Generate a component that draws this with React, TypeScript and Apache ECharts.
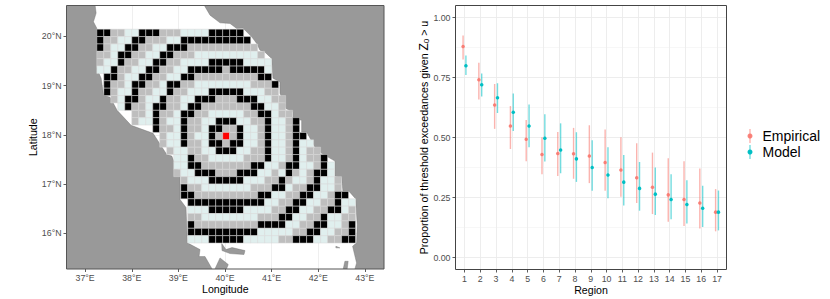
import React, { useEffect, useRef } from "react";
import * as echarts from "echarts";

// ---------- Right panel data ----------
const regions = [1, 2, 3, 4, 5, 6, 7, 8, 9, 10, 11, 12, 13, 14, 15, 16, 17];
const empiricalMean = [0.879, 0.741, 0.635, 0.548, 0.493, 0.429, 0.433, 0.432, 0.423, 0.396, 0.365, 0.332, 0.293, 0.261, 0.242, 0.227, 0.189];
const empiricalLow = [0.825, 0.658, 0.536, 0.452, 0.401, 0.347, 0.34, 0.328, 0.31, 0.278, 0.253, 0.227, 0.181, 0.149, 0.131, 0.121, 0.109];
const empiricalHigh = [0.925, 0.811, 0.723, 0.631, 0.573, 0.501, 0.523, 0.54, 0.551, 0.533, 0.501, 0.476, 0.437, 0.414, 0.401, 0.371, 0.285];
const modelMean = [0.799, 0.72, 0.666, 0.605, 0.548, 0.497, 0.448, 0.411, 0.375, 0.344, 0.314, 0.288, 0.264, 0.242, 0.221, 0.205, 0.189];
const modelLow = [0.76, 0.671, 0.602, 0.527, 0.459, 0.4, 0.351, 0.315, 0.278, 0.247, 0.217, 0.195, 0.177, 0.159, 0.142, 0.127, 0.113];
const modelHigh = [0.842, 0.767, 0.726, 0.683, 0.638, 0.597, 0.559, 0.522, 0.489, 0.459, 0.427, 0.398, 0.375, 0.347, 0.322, 0.299, 0.279];
const majorY = [0, 0.25, 0.5, 0.75, 1];
const minorY = [0.125, 0.375, 0.625, 0.875];

// ---------- Left panel data ----------
const lonTicks = [37, 38, 39, 40, 41, 42, 43];
const latTicks = [16, 17, 18, 19, 20];
const firstCellLon = 37.325;
const firstCellLat = 20.073;
const cellStep = 0.15;
// k black, g grey, l pale, r red, . no cell; one string per latitude row
const cellRows = [
  "kkggllkkkgggllllkkkkk",
  "kggllkkgggllkkkkkkkkkk",
  "kgllkkggllkkkgggggggggg",
  "gglkkggllkkggglllllllllg",
  "gllkggllkkggllllkkkkkllll",
  "llkggllkkggllkkkkkgkkkkkl",
  ".kkgllkkggllkkgggggggggkk",
  ".kgglkkgglkkgg" + "llllllll" + "gggk",
  ".kgllkggllkgglll" + "kkkkk" + "lll" + "gg",
  "..gl" + "kk" + "g" + "ll" + "k" + "gg" + "ll" + "kkk" + "ggg" + "kkk" + "ll" + "gg",
  "...l" + "k" + "gg" + "l" + "kk" + "gg" + "l" + "kk" + "ggggggg" + "kk" + "ll" + "g",
  "....." + "gg" + "l" + "k" + "gg" + "l" + "kk" + "gg" + "lllll" + "gg" + "kk" + "l" + "gg",
  "....." + "g" + "ll" + "k" + "g" + "ll" + "k" + "gg" + "ll" + "kkk" + "ll" + "gg" + "k" + "ll" + "g" + "k",
  "........" + "k" + "gg" + "l" + "k" + "gg" + "l" + "kk" + "gg" + "k" + "ll" + "g" + "k" + "ll" + "g" + "k",
  "........." + "g" + "ll" + "k" + "g" + "ll" + "k" + "g" + "r" + "g" + "k" + "ll" + "g" + "k" + "ll" + "g" + "kk",
  "........." + "g" + "ll" + "k" + "gg" + "l" + "kk" + "g" + "kk" + "ll" + "g" + "k" + "ll" + "g" + "k" + "ll",
  ".........." + "g" + "ll" + "gg" + "ll" + "kkk" + "ll" + "gg" + "k" + "ll" + "g" + "k" + "l" + "gg",
  "..........." + "ll" + "k" + "gg" + "lllll" + "ggg" + "k" + "ll" + "g" + "k" + "l" + "gg" + "k",
  "..........." + "ll" + "kk" + "ggggggg" + "kk" + "ll" + "g" + "kk" + "ll" + "g" + "k" + "l",
  "..........." + "g" + "ll" + "kkk" + "ggg" + "kkk" + "ll" + "g" + "l" + "k" + "g" + "l" + "g" + "kk" + "l",
  "............" + "g" + "lll" + "kkkkk" + "lll" + "gg" + "k" + "g" + "ll" + "g" + "k" + "ll" + "g",
  "............" + "k" + "gg" + "lllllll" + "ggg" + "kk" + "l" + "gg" + "kk" + "ll" + "g",
  "............" + "kk" + "ggggggggg" + "kk" + "ll" + "gg" + "kk" + "ll" + "g" + "kk",
  "............." + "kkkkkkkkkkk" + "ll" + "gg" + "kk" + "ll" + "gg" + "k" + "ll",
  "............." + "lll" + "kkkkk" + "llll" + "gg" + "kk" + "ll" + "gg" + "kk" + "l" + "g",
  "............." + "gg" + "llllllll" + "ggg" + "kk" + "ll" + "gg" + "k" + "ll" + "gg",
  "............." + "k" + "ggggggggg" + "kkkk" + "ll" + "gg" + "kk" + "ll" + "g" + "k",
  "............." + "kkkkkkkkkk" + "lllll" + "gg" + "kk" + "ll" + "gg" + "k",
  "............." + "lll" + "kkkkk" + "lllll" + "gg" + "kkk" + "ll" + "gg" + "kk",
];
const cellColours: Record<string, string> = { k: "#000000", g: "#bebebe", l: "#e0efee", r: "#ff0000" };

const westLand = [
  [37.214, 20.8], [37.214, 20.632], [37.236, 20.475], [37.178, 20.298], [37.25, 20.169], [37.25, 19.354],
  [37.343, 19.15], [37.396, 18.804], [37.536, 18.763], [37.686, 18.498], [37.986, 18.192], [38.457, 18.03],
  [38.75, 17.6], [38.858, 17.567], [39.036, 17.16], [39.036, 16.684], [39.164, 16.521], [39.192, 15.802],
  [39.464, 15.665], [39.443, 15.523], [39.571, 15.523], [39.743, 15.237], [39.743, 15.1], [36.4, 15.1], [36.4, 20.8],
];
const eastLand = [
  [39.53, 20.8], [39.556, 20.632], [39.678, 20.434], [39.893, 20.277], [40.107, 20.265], [40.25, 20.163],
  [40.386, 20.169], [40.572, 19.992], [40.679, 19.857], [40.75, 19.721], [40.857, 19.68], [41.0, 19.552],
  [41.028, 19.15], [41.178, 19.075], [41.178, 18.844], [41.307, 18.533], [41.457, 18.463], [41.457, 18.335],
  [41.643, 18.294], [41.643, 18.056], [41.75, 18.056], [41.928, 17.75], [42.072, 17.622], [42.357, 17.465],
  [42.357, 17.159], [42.5, 17.127], [42.528, 16.853], [42.657, 16.853], [42.8, 16.699], [42.835, 16.175],
  [42.822, 15.802], [42.736, 15.733], [42.822, 15.394], [42.786, 15.272], [42.786, 15.1], [43.6, 15.1], [43.6, 20.8],
];
const islandA = [[39.75, 15.2], [39.893, 15.495], [40.07, 15.36], [40.0, 15.2]];
const islandB = [[39.929, 15.788], [40.021, 15.665], [40.15, 15.706], [40.428, 15.645], [40.407, 15.564], [40.107, 15.584], [39.935, 15.645]];
const islandC = [[42.535, 15.272], [42.571, 15.427], [42.642, 15.427], [42.62, 15.272]];
const islandD = [[42.378, 15.733], [42.464, 15.7], [42.378, 15.7]];
const landShapes = [westLand, eastLand, islandA, islandB, islandC, islandD];

const FONT = "'Liberation Sans', Arial, sans-serif";
const RED = "#F8766D";
const TEAL = "#00BFC4";
const dodge = 0.09;

export default function App() {
  const ref = useRef<HTMLDivElement>(null);
  useEffect(() => {
    document.body.style.margin = "0";
    const chart = echarts.init(ref.current!, undefined, { renderer: "svg" });

    const cells: any[] = [];
    cellRows.forEach((row, r) => {
      row.split("").forEach((ch, c) => {
        if (ch !== ".") cells.push([firstCellLon + cellStep * c, firstCellLat - cellStep * r, ch]);
      });
    });

    const clipRect = (p: any) => ({ x: p.coordSys.x, y: p.coordSys.y, width: p.coordSys.width, height: p.coordSys.height });

    const errorSeries = (name: string, low: number[], high: number[], shift: number, colour: string) => ({
      type: "custom",
      name,
      xAxisIndex: 1,
      yAxisIndex: 1,
      silent: true,
      z: 3,
      encode: { x: 0, y: [1, 2] },
      data: regions.map((r, i) => [r + shift, low[i], high[i]]),
      renderItem: (_: any, api: any) => {
        const a = api.coord([api.value(0), api.value(1)]);
        const b = api.coord([api.value(0), api.value(2)]);
        return {
          type: "line",
          shape: { x1: a[0], y1: a[1], x2: b[0], y2: b[1] },
          style: { stroke: colour, lineWidth: 1.4, opacity: 0.55 },
        };
      },
    });

    const axisCommon = {
      axisLine: { show: false, onZero: false },
      axisTick: { show: true, length: 3, lineStyle: { color: "#333333", width: 0.8 } },
      nameTextStyle: { color: "#000", fontSize: 10.6, fontFamily: FONT },
      nameLocation: "middle" as const,
      nameMoveOverlap: false,
    };
    const labelStyle = { color: "#4d4d4d", fontSize: 8.8, fontFamily: FONT };

    chart.setOption({
      animation: false,
      backgroundColor: "#ffffff",
      textStyle: { fontFamily: FONT },
      grid: [
        { left: 66.5, top: 5.5, width: 317.5, height: 263.5, show: false, outerBoundsMode: "none" },
        { left: 455.5, top: 5.5, width: 271, height: 264, show: false, outerBoundsMode: "none" },
      ],
      xAxis: [
        {
          ...axisCommon, type: "value", gridIndex: 0, min: 36.6, max: 43.41, name: "Longitude", nameGap: 14.5,
          axisTick: { ...axisCommon.axisTick, customValues: lonTicks },
          axisLabel: { ...labelStyle, margin: 4.5, customValues: lonTicks, formatter: (v: number) => `${v}°E` },
          splitLine: { show: true, lineStyle: { color: "#ebebeb", width: 0.8 } },
        },
        {
          ...axisCommon, type: "value", gridIndex: 1, min: 0.43, max: 17.6, name: "Region", nameGap: 14.5,
          axisTick: { ...axisCommon.axisTick, customValues: regions },
          axisLabel: { ...labelStyle, margin: 4.5, customValues: regions, formatter: (v: number) => `${v}` },
          splitLine: { show: true, lineStyle: { color: "#ebebeb", width: 0.9 } },
        },
      ],
      yAxis: [
        {
          ...axisCommon, type: "value", gridIndex: 0, min: 15.27, max: 20.63, name: "Latitude", nameGap: 28,
          axisTick: { ...axisCommon.axisTick, customValues: latTicks },
          axisLabel: { ...labelStyle, margin: 5, customValues: latTicks, formatter: (v: number) => `${v}°N` },
          splitLine: { show: true, lineStyle: { color: "#ebebeb", width: 0.8 } },
        },
        {
          ...axisCommon, type: "value", gridIndex: 1, min: -0.05, max: 1.05,
          name: "Proportion of threshold exceedances given {z|Z}{s|0} > u", nameGap: 25,
          nameTextStyle: {
            color: "#000", fontSize: 10.6, fontFamily: FONT,
            rich: {
              z: { fontSize: 12, color: "#000", fontFamily: FONT },
              s: { fontSize: 8, color: "#000", fontFamily: FONT, verticalAlign: "bottom", padding: [5, 0, 0, 0] },
            },
          },
          axisTick: { ...axisCommon.axisTick, customValues: majorY },
          axisLabel: { ...labelStyle, margin: 5, customValues: majorY, formatter: (v: number) => v.toFixed(2) },
          splitLine: { show: true, lineStyle: { color: "#ebebeb", width: 0.9 } },
        },
        {
          type: "value", gridIndex: 1, min: -0.05, max: 1.05, position: "left",
          axisLine: { show: false, onZero: false }, axisTick: { show: false, customValues: minorY },
          axisLabel: { show: false, customValues: minorY },
          splitLine: { show: true, lineStyle: { color: "#f2f2f2", width: 0.6 } },
        },
      ],
      legend: {
        orient: "vertical", left: 742.5, top: 123, icon: "circle", itemWidth: 5, itemHeight: 5, itemGap: 0,
        selectedMode: false, data: ["Empirical", "Model"],
        textStyle: { color: "#000", fontSize: 14, fontFamily: FONT, padding: [0, 0, 0, 5], lineHeight: 16 },
      },
      graphic: [
        { type: "rect", z: 100, silent: true, shape: { x: 66.5, y: 5.5, width: 317.5, height: 263.5 }, style: { fill: "none", stroke: "#555555", lineWidth: 1 } },
        { type: "rect", z: 100, silent: true, shape: { x: 455.5, y: 5.5, width: 271, height: 264 }, style: { fill: "none", stroke: "#444444", lineWidth: 1 } },
        { type: "rect", z: 1, silent: true, shape: { x: 749.3, y: 129, width: 1.4, height: 14 }, style: { fill: RED, opacity: 0.55 } },
        { type: "rect", z: 1, silent: true, shape: { x: 749.3, y: 145, width: 1.4, height: 14 }, style: { fill: TEAL, opacity: 0.55 } },
      ],
      series: [
        {
          type: "custom", name: "land", xAxisIndex: 0, yAxisIndex: 0, silent: true, z: 1,
          data: landShapes.map((_, i) => [i]),
          encode: { x: -1, y: -1 },
          renderItem: (p: any, api: any) => {
            const pts = landShapes[api.value(0)].map((q) => api.coord(q));
            return {
              type: "polygon",
              shape: { points: pts },
              clipPath: { type: "rect", shape: clipRect(p) },
              style: { fill: "#999999", stroke: "#6e6e6e", lineWidth: 0.4 },
            };
          },
        },
        {
          type: "custom", name: "cells", xAxisIndex: 0, yAxisIndex: 0, silent: true, z: 2,
          encode: { x: 0, y: 1 },
          dimensions: ["lon", "lat", { name: "cls", type: "ordinal" }],
          data: cells,
          renderItem: (_: any, api: any) => {
            const c = api.coord([api.value(0), api.value(1)]);
            const s = api.size([cellStep, cellStep]);
            const cls = cells[_.dataIndex][2];
            return {
              type: "rect",
              shape: { x: c[0] - s[0] / 2, y: c[1] - s[1] / 2, width: s[0], height: s[1] },
              style: { fill: cellColours[cls], stroke: "#d8d8d8", lineWidth: 0.5 },
            };
          },
        },
        errorSeries("Empirical range", empiricalLow, empiricalHigh, -dodge, RED),
        errorSeries("Model range", modelLow, modelHigh, dodge, TEAL),
        {
          type: "scatter", name: "Empirical", xAxisIndex: 1, yAxisIndex: 1, symbolSize: 3.5, z: 4,
          itemStyle: { color: RED, opacity: 0.9 },
          data: regions.map((r, i) => [r - dodge, empiricalMean[i]]),
        },
        {
          type: "scatter", name: "Model", xAxisIndex: 1, yAxisIndex: 1, symbolSize: 3.5, z: 4,
          itemStyle: { color: TEAL, opacity: 1 },
          data: regions.map((r, i) => [r + dodge, modelMean[i]]),
        },
      ],
    });
    return () => chart.dispose();
  }, []);
  return <div ref={ref} style={{ position: "absolute", left: 0, top: 0, width: 830, height: 299 }} />;
}
